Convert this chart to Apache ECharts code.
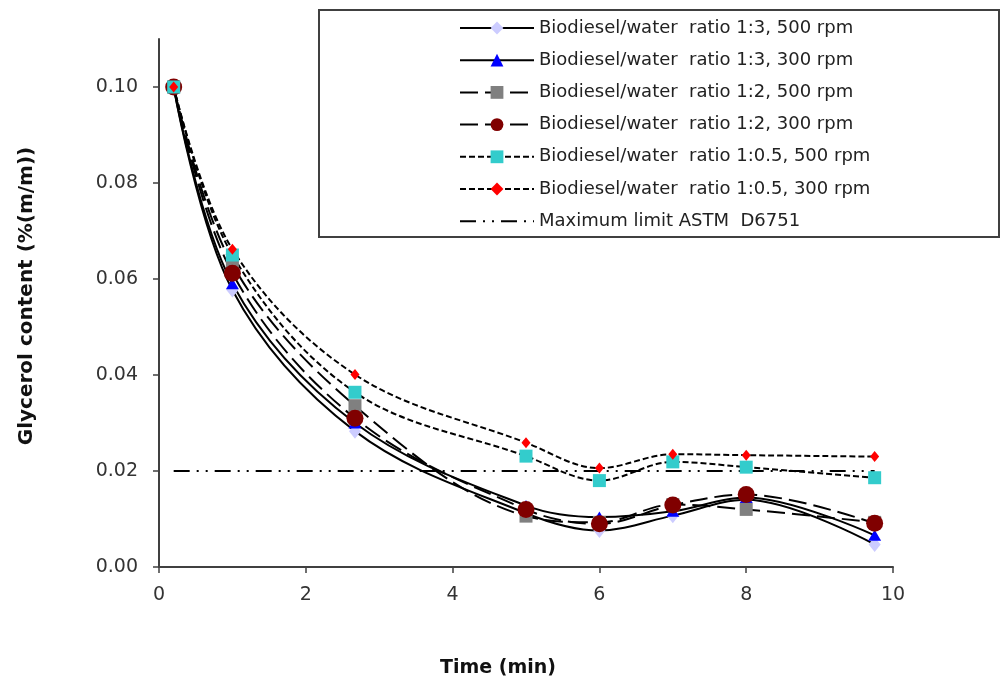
<!DOCTYPE html>
<html>
<head>
<meta charset="utf-8">
<script src="https://cdn.jsdelivr.net/npm/echarts@6/dist/echarts.min.js"></script>
<style>
html, body { margin: 0; padding: 0; background: #ffffff; }
#chart { width: 1002px; height: 678px; }
</style>
</head>
<body>
<div id="chart"></div>
<script>
// ---- data ----
const timeMin = [0.2, 1, 2.67, 5, 6, 7, 8, 9.75];
const ratio13_500 = [0.100, 0.0577, 0.0283, 0.0112, 0.0076, 0.0107, 0.0140, 0.0047];
const ratio13_300 = [0.100, 0.0590, 0.0300, 0.0128, 0.0104, 0.0116, 0.0145, 0.0066];
const ratio12_500 = [0.100, 0.0630, 0.0336, 0.0106, 0.0093, 0.0130, 0.0120, 0.0093];
const ratio12_300 = [0.100, 0.0612, 0.0310, 0.0120, 0.0090, 0.0129, 0.0151, 0.0091];
const ratio105_500 = [0.100, 0.0650, 0.0364, 0.0231, 0.0180, 0.0219, 0.0208, 0.0186];
const ratio105_300 = [0.100, 0.0662, 0.0401, 0.0259, 0.0206, 0.0235, 0.0233, 0.0230];
const limitTime = [0.2, 9.75];
const limitValue = [0.02, 0.02];
const seriesNames = [
  'Biodiesel/water  ratio 1:3, 500 rpm',
  'Biodiesel/water  ratio 1:3, 300 rpm',
  'Biodiesel/water  ratio 1:2, 500 rpm',
  'Biodiesel/water  ratio 1:2, 300 rpm',
  'Biodiesel/water  ratio 1:0.5, 500 rpm',
  'Biodiesel/water  ratio 1:0.5, 300 rpm',
  'Maximum limit ASTM  D6751'
];
const yTicks = [0, 0.02, 0.04, 0.06, 0.08, 0.10];
const xTicks = [0, 2, 4, 6, 8, 10];

function pairs(xs, ys) { return xs.map((x, i) => [x, ys[i]]); }

const FONT = 'DejaVu Sans';
const longDash = [18, 7];
const shortDash = [6, 3];

function dataSeries(name, ys, symbol, size, color, dash) {
  return {
    name: name,
    type: 'line',
    data: pairs(timeMin, ys),
    smooth: 0.35,
    symbol: symbol,
    symbolSize: size,
    showSymbol: true,
    itemStyle: { color: color, opacity: 1 },
    lineStyle: { color: '#000000', width: 2, type: dash },
    emphasis: { disabled: true }
  };
}

const chart = echarts.init(document.getElementById('chart'), null, { renderer: 'canvas' });

chart.setOption({
  animation: false,
  backgroundColor: '#ffffff',
  textStyle: { fontFamily: FONT },
  grid: { left: 159, right: 109, top: 39, bottom: 111, outerBoundsMode: 'none', containLabel: false },
  xAxis: {
    type: 'value',
    min: 0, max: 10, interval: 2,
    name: 'Time (min)',
    nameLocation: 'middle',
    nameGap: 92,
    nameTextStyle: { fontFamily: FONT, fontWeight: 'bold', fontSize: 19, color: '#111', padding: [0, 56, 0, 0] },
    axisLine: { show: true, lineStyle: { color: '#404040', width: 2 } },
    axisTick: { show: true, length: 6, lineStyle: { color: '#404040', width: 1.5 }, customValues: xTicks },
    axisLabel: { customValues: xTicks, fontFamily: FONT, fontSize: 19, color: '#333', margin: 19 },
    splitLine: { show: false }
  },
  yAxis: {
    type: 'value',
    min: 0, max: 0.11, interval: 0.02,
    name: 'Glycerol content (%(m/m))',
    nameLocation: 'middle',
    nameGap: 122,
    nameRotate: 90,
    nameTextStyle: { fontFamily: FONT, fontWeight: 'bold', fontSize: 20, color: '#111', padding: [0, 0, 0, 14] },
    axisLine: { show: true, lineStyle: { color: '#404040', width: 2 } },
    axisTick: { show: true, length: 6, lineStyle: { color: '#404040', width: 1.5 }, customValues: yTicks },
    axisLabel: {
      customValues: yTicks,
      fontFamily: FONT, fontSize: 19, color: '#333', margin: 21,
      formatter: v => v.toFixed(2)
    },
    splitLine: { show: false }
  },
  graphic: [{
    type: 'rect',
    z: 1,
    shape: { x: 319, y: 10, width: 680, height: 227 },
    style: { fill: '#ffffff', stroke: '#404040', lineWidth: 2 }
  }],
  legend: {
    orient: 'vertical',
    left: 454,
    top: 14,
    itemWidth: 74,
    itemHeight: 16,
    itemGap: 14.2,
    z: 5,
    textStyle: { fontFamily: FONT, fontSize: 18, color: '#222' },
    data: seriesNames
  },
  series: [
    dataSeries(seriesNames[0], ratio13_500, 'diamond', [12, 15], '#ccccff', 'solid'),
    dataSeries(seriesNames[1], ratio13_300, 'triangle', [13, 11], '#0000ff', 'solid'),
    dataSeries(seriesNames[2], ratio12_500, 'rect', 13, '#808080', longDash),
    dataSeries(seriesNames[3], ratio12_300, 'circle', 17, '#800000', longDash),
    dataSeries(seriesNames[4], ratio105_500, 'rect', 13, '#33cccc', shortDash),
    dataSeries(seriesNames[5], ratio105_300, 'diamond', [9, 11], '#ff0000', shortDash),
    {
      name: seriesNames[6],
      type: 'line',
      data: pairs(limitTime, limitValue),
      symbol: 'none',
      itemStyle: { color: 'rgba(0,0,0,0)' },
      lineStyle: { color: '#000000', width: 2, type: [16, 7, 2, 7, 2, 7] },
      emphasis: { disabled: true }
    }
  ]
});
</script>
</body>
</html>
